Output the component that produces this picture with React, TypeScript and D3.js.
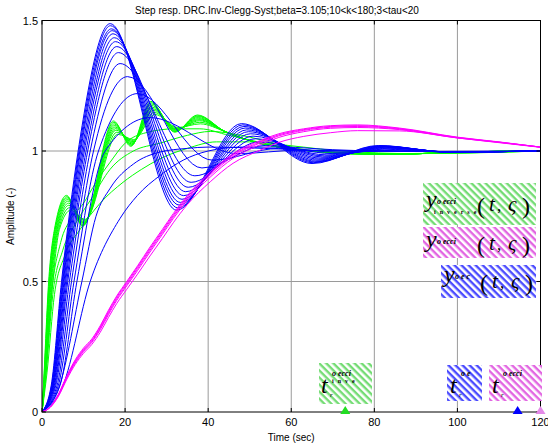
import React from "react";
import * as d3 from "d3";

const W = 548;
const H = 446;
const plot = { left: 42, right: 540.5, top: 20.5, bottom: 412 };

const xTicks = [0, 20, 40, 60, 80, 100, 120];
const yTicks = [0, 0.5, 1, 1.5];
const yTickLabels = ["0", "0.5", "1", "1.5"];
const titleText = "Step resp. DRC.Inv-Clegg-Syst;beta=3.105;10<k<180;3<tau<20";

// blue family (oscillating members): times and values of the features
const blueT10 = [2.2, 2.3, 2.4, 2.5, 2.6, 2.7, 2.8, 2.95, 3.1, 3.3, 3.6, 3.9, 4.3];
const blueT05 = [4.7, 4.85, 5.0, 5.15, 5.3, 5.5, 5.7, 5.95, 6.2, 6.6, 7.1, 7.7, 8.4];
const blueT1 = [8.7, 8.9, 9.1, 9.3, 9.6, 9.9, 10.2, 10.6, 11.0, 11.6, 12.4, 13.6, 15.2];
const bluePk1T = [16.4, 16.5, 16.7, 16.9, 17.1, 17.4, 17.7, 18.0, 18.4, 18.8, 20.6, 23.0, 26.0];
const bluePk1Y = [1.488, 1.48, 1.468, 1.461, 1.449, 1.434, 1.419, 1.4, 1.377, 1.335, 1.285, 1.22, 1.128];
const blueDip1T = [32.4, 32.7, 33.0, 33.3, 33.7, 34.1, 34.6, 35.2, 35.9, 36.8, 38.5, 41.0, 47.0];
const blueDip1Y = [0.773, 0.782, 0.793, 0.803, 0.815, 0.829, 0.844, 0.861, 0.88, 0.905, 0.935, 0.965, 0.99];
const bluePk2T = [48.0, 48.3, 48.6, 48.9, 49.3, 49.7, 50.2, 50.8, 51.5, 52.3, 54.0, 57.0, 62.0];
const bluePk2Y = [1.105, 1.1, 1.094, 1.088, 1.081, 1.074, 1.066, 1.057, 1.047, 1.035, 1.022, 1.01, 1.003];
const blueDip2T = [65.0, 65.3, 65.6, 65.9, 66.2, 66.6, 67.0, 67.5, 68.0, 68.6, 70.0, 72.0, 76.0];
const blueDip2Y = [0.952, 0.955, 0.958, 0.961, 0.965, 0.969, 0.973, 0.977, 0.981, 0.985, 0.99, 0.995, 0.999];
const bluePk3T = [81.0, 81.3, 81.6, 82.0, 82.4, 82.8, 83.2, 83.6, 84.0, 84.5, 85.0, 86.0, 88.0];
const bluePk3Y = [1.021, 1.02, 1.019, 1.018, 1.017, 1.016, 1.015, 1.013, 1.011, 1.009, 1.006, 1.003, 1.001];
const blueTailT = [98, 120];
const blueTailY = [0.996, 1.0];

// blue family, the two slow members
const blueSlowA = [[0, 0], [4.2, 0.1], [9.6, 0.5], [13, 0.75], [16.4, 0.857], [22, 0.95], [28.4, 0.996], [35, 1.01], [40, 1.015], [50, 1.012], [65, 1.003], [90, 0.998], [120, 1.0]];
const blueSlowB = [[0, 0], [5, 0.1], [11.6, 0.5], [18.8, 0.742], [23, 0.83], [28.4, 0.906], [34, 0.965], [40, 1.0], [48, 1.015], [58, 1.015], [70, 1.005], [90, 0.998], [120, 1.0]];

// green family (wavy members)
const greenT10 = [0.35, 0.38, 0.41, 0.44, 0.47, 0.5, 0.55, 0.6, 0.65];
const greenT05 = [1.6, 1.7, 1.8, 1.9, 2.0, 2.1, 2.25, 2.4, 2.6];
const greenT07 = [3.0, 3.1, 3.2, 3.35, 3.5, 3.65, 3.8, 4.0, 4.2];
const greenB1T = [5.9, 6.0, 6.1, 6.2, 6.3, 6.4, 6.5, 6.7, 6.9];
const greenB1Y = [0.83, 0.825, 0.82, 0.814, 0.808, 0.8, 0.792, 0.783, 0.773];
const greenD1T = [9.8, 9.85, 9.9, 10.0, 10.05, 10.1, 10.2, 10.3, 10.4];
const greenD1Y = [0.712, 0.714, 0.717, 0.72, 0.723, 0.726, 0.73, 0.734, 0.738];
const greenP2T = [17.2, 17.3, 17.4, 17.5, 17.6, 17.7, 17.8, 18.0, 18.2];
const greenP2Y = [1.115, 1.11, 1.104, 1.098, 1.092, 1.086, 1.08, 1.072, 1.064];
const greenD2T = [21.4, 21.5, 21.6, 21.6, 21.7, 21.8, 21.9, 22.0, 22.1];
const greenD2Y = [1.018, 1.021, 1.024, 1.027, 1.03, 1.033, 1.036, 1.04, 1.044];
const greenP3T = [26.2, 26.3, 26.4, 26.5, 26.6, 26.7, 26.8, 27.0, 27.2];
const greenP3Y = [1.19, 1.185, 1.18, 1.174, 1.168, 1.162, 1.156, 1.148, 1.14];
const greenD3T = [32.0, 32.0, 32.1, 32.2, 32.3, 32.4, 32.5, 32.6, 32.7];
const greenD3Y = [1.072, 1.074, 1.076, 1.078, 1.08, 1.082, 1.084, 1.087, 1.09];
const greenP4T = [37.4, 37.5, 37.6, 37.6, 37.7, 37.8, 37.9, 38.0, 38.1];
const greenP4Y = [1.138, 1.135, 1.132, 1.128, 1.124, 1.12, 1.116, 1.11, 1.104];
const greenTailT = [44, 50, 57, 65, 74, 86, 100, 120];
const greenTailY = [1.075, 1.04, 1.015, 1.0, 0.99, 0.988, 0.996, 1.0];

// green family, smooth members
const greenSmoothA = [[0, 0], [0.9, 0.15], [2.3, 0.45], [4.5, 0.65], [7, 0.74], [10, 0.8], [13, 0.88], [16.4, 0.957], [20, 1.03], [25, 1.07], [32, 1.085], [38, 1.085], [45, 1.06], [52, 1.035], [60, 1.01], [70, 0.995], [85, 0.99], [120, 1.0]];
const greenSmoothB = [[0, 0], [1, 0.15], [2.6, 0.45], [5, 0.62], [8, 0.72], [12, 0.82], [16.4, 0.93], [22, 1.0], [28.4, 1.03], [35, 1.06], [40.5, 1.075], [48, 1.06], [56, 1.03], [66, 1.0], [85, 0.99], [120, 1.0]];
const greenSmoothC = [[0, 0], [1.2, 0.15], [3, 0.45], [5.5, 0.6], [9.2, 0.7], [14, 0.8], [19.5, 0.88], [24, 0.93], [28.4, 0.97], [35, 1.01], [42, 1.035], [50, 1.035], [60, 1.02], [72, 1.0], [90, 0.99], [120, 1.0]];

// magenta family
const magentaT = [0, 2, 4, 6, 8, 10, 12, 14, 16, 18, 20.4, 23, 26, 29, 31.6, 35, 40.5, 46, 52.5, 57, 63, 69.4, 76, 86, 100, 110, 120];
const magentaY = [
  [0, 0.02, 0.07, 0.14, 0.2, 0.245, 0.28, 0.33, 0.39, 0.445, 0.5, 0.56, 0.632, 0.7, 0.76, 0.83, 0.92, 0.99, 1.04, 1.066, 1.085, 1.097, 1.1, 1.088, 1.053, 1.035, 1.015],
  [0, 0.02, 0.068, 0.137, 0.196, 0.24, 0.275, 0.325, 0.385, 0.44, 0.495, 0.555, 0.626, 0.694, 0.754, 0.824, 0.914, 0.985, 1.035, 1.062, 1.082, 1.094, 1.097, 1.086, 1.052, 1.034, 1.015],
  [0, 0.019, 0.066, 0.134, 0.192, 0.236, 0.271, 0.32, 0.379, 0.434, 0.489, 0.549, 0.62, 0.688, 0.748, 0.818, 0.908, 0.98, 1.031, 1.058, 1.079, 1.091, 1.094, 1.084, 1.051, 1.034, 1.015],
  [0, 0.019, 0.064, 0.131, 0.188, 0.232, 0.267, 0.315, 0.373, 0.428, 0.483, 0.542, 0.613, 0.681, 0.741, 0.811, 0.9, 0.972, 1.024, 1.052, 1.074, 1.087, 1.09, 1.082, 1.05, 1.033, 1.015],
  [0, 0.018, 0.061, 0.126, 0.182, 0.225, 0.259, 0.305, 0.362, 0.416, 0.47, 0.528, 0.598, 0.665, 0.725, 0.795, 0.882, 0.953, 1.003, 1.033, 1.056, 1.07, 1.078, 1.077, 1.05, 1.032, 1.014],
];

// rise-time markers on the time axis
const markerT = [73, 114.5, 120];
const markerColor = ["#22dd22", "#0000ff", "#e48ae8"];

const sans = "'Liberation Sans', Arial, Helvetica, sans-serif";
const serif = "'Liberation Serif', 'Times New Roman', serif";

const x = d3.scaleLinear().domain([0, 120]).range([plot.left, plot.right]);
const y = d3.scaleLinear().domain([0, 1.5]).range([plot.bottom, plot.top]);
const line = d3
  .line<number[]>()
  .x((d) => x(d[0]))
  .y((d) => y(d[1]))
  .curve(d3.curveMonotoneX);

const pairs = (ts: number[], ys: number[]) => ts.map((t, j) => [t, ys[j]]);

const blueCurves = [
  ...bluePk1T.map((_, i) => [
    [0, 0],
    [blueT10[i], 0.1],
    [blueT05[i], 0.5],
    [blueT1[i], 1],
    [bluePk1T[i], bluePk1Y[i]],
    [blueDip1T[i], blueDip1Y[i]],
    [bluePk2T[i], bluePk2Y[i]],
    [blueDip2T[i], blueDip2Y[i]],
    [bluePk3T[i], bluePk3Y[i]],
    ...pairs(blueTailT, blueTailY),
  ]),
  blueSlowA,
  blueSlowB,
];

const greenCurves = [
  greenSmoothA,
  greenSmoothB,
  greenSmoothC,
  ...greenB1T.map((_, i) => [
    [0, 0],
    [greenT10[i], 0.1],
    [greenT05[i], 0.5],
    [greenT07[i], 0.7],
    [greenB1T[i], greenB1Y[i]],
    [greenD1T[i], greenD1Y[i]],
    [greenP2T[i], greenP2Y[i]],
    [greenD2T[i], greenD2Y[i]],
    [greenP3T[i], greenP3Y[i]],
    [greenD3T[i], greenD3Y[i]],
    [greenP4T[i], greenP4Y[i]],
    ...pairs(greenTailT, greenTailY),
  ]),
];

const magentaCurves = magentaY.map((ys) => pairs(magentaT, ys));

const hatches = [
  { id: "hG", color: "#74dc74" },
  { id: "hM", color: "#e266e2" },
  { id: "hB", color: "#4c4cff" },
];

const Yterm = ({ x0, base, sub, sub2 }: any) => (
  <g>
    <text x={x0} y={base} fontFamily={serif} fontStyle="italic" fontSize={24}>y</text>
    <text x={x0 + 11} y={base - 3} fontFamily={serif} fontStyle="italic" fontWeight="bold" fontSize={8}>{sub}</text>
    {sub2 && (
      <text x={x0 + 8} y={base + 7} fontFamily={serif} fontWeight="bold" fontSize={6} letterSpacing={4}>{sub2}</text>
    )}
  </g>
);

const Args = ({ x0, base }: any) => (
  <g fontFamily={serif}>
    <text x={x0} y={base} fontSize={24}>(</text>
    <text x={x0 + 12} y={base - 3} fontSize={21} fontStyle="italic">t</text>
    <text x={x0 + 20} y={base - 3} fontSize={17}>,</text>
    <text x={x0 + 31} y={base - 3} fontSize={21} fontStyle="italic">ς</text>
    <text x={x0 + 45} y={base} fontSize={24}>)</text>
  </g>
);

const Tterm = ({ x0, base, sup, sup2 }: any) => (
  <g>
    <text x={x0} y={base} fontFamily={serif} fontStyle="italic" fontSize={24}>t</text>
    <text x={x0 + 11} y={base - 17} fontFamily={serif} fontStyle="italic" fontWeight="bold" fontSize={8}>{sup}</text>
    {sup2 && (
      <text x={x0 + 11} y={base - 10} fontFamily={serif} fontWeight="bold" fontSize={6} letterSpacing={4}>{sup2}</text>
    )}
    <text x={x0 + 9} y={base + 4} fontFamily={serif} fontStyle="italic" fontSize={7}>r</text>
  </g>
);

export default function App() {
  const triPath = (cx: number, by: number) => `M${cx - 5},${by + 2} L${cx + 5},${by + 2} L${cx},${by - 6} Z`;
  return (
    <svg width={W} height={H} style={{ position: "absolute", left: 0, top: 0, display: "block", background: "#fff" }}>
      <defs>
        <clipPath id="plotClip">
          <rect x={plot.left} y={plot.top} width={plot.right - plot.left} height={plot.bottom - plot.top} />
        </clipPath>
        {hatches.map((h) => (
          <pattern key={h.id} id={h.id} patternUnits="userSpaceOnUse" width={5} height={5} patternTransform="rotate(45)">
            <rect width={5} height={5} fill="#fff" />
            <rect width={5} height={2.4} fill={h.color} />
          </pattern>
        ))}
      </defs>
      <rect x={0} y={0} width={W} height={H} fill="#fff" />

      {/* grid */}
      <g stroke="#9a9a9a" strokeWidth={1}>
        {xTicks.slice(1, -1).map((t) => (
          <line key={"gx" + t} x1={x(t)} x2={x(t)} y1={plot.top} y2={plot.bottom} />
        ))}
        {yTicks.slice(1, -1).map((v) => (
          <line key={"gy" + v} x1={plot.left} x2={plot.right} y1={y(v)} y2={y(v)} />
        ))}
      </g>

      {/* curves */}
      <g clipPath="url(#plotClip)" fill="none" strokeWidth={1}>
        {greenCurves.map((c, i) => (
          <path key={"g" + i} d={line(c) || ""} stroke="#00ff00" />
        ))}
        {blueCurves.map((c, i) => (
          <path key={"b" + i} d={line(c) || ""} stroke="#0000ff" />
        ))}
        {magentaCurves.map((c, i) => (
          <path key={"m" + i} d={line(c) || ""} stroke="#ff00ff" />
        ))}
      </g>

      {/* frame and ticks */}
      <rect x={plot.left} y={plot.top} width={plot.right - plot.left} height={plot.bottom - plot.top} fill="none" stroke="#000" strokeWidth={1} />
      <g stroke="#000" strokeWidth={1}>
        {xTicks.map((t) => (
          <g key={"tx" + t}>
            <line x1={x(t)} x2={x(t)} y1={plot.bottom} y2={plot.bottom - 4} />
            <line x1={x(t)} x2={x(t)} y1={plot.top} y2={plot.top + 4} />
          </g>
        ))}
        {yTicks.map((v) => (
          <g key={"ty" + v}>
            <line x1={plot.left} x2={plot.left + 4} y1={y(v)} y2={y(v)} />
            <line x1={plot.right} x2={plot.right - 4} y1={y(v)} y2={y(v)} />
          </g>
        ))}
      </g>
      <g fontFamily={sans} fontSize={11} fill="#000">
        {xTicks.map((t) => (
          <text key={"lx" + t} x={x(t)} y={plot.bottom + 14} textAnchor="middle">{t}</text>
        ))}
        {yTicks.map((v, i) => (
          <text key={"ly" + v} x={plot.left - 4} y={y(v) + 4} textAnchor="end">{yTickLabels[i]}</text>
        ))}
      </g>

      {/* titles */}
      <text x={277} y={14} textAnchor="middle" fontFamily={sans} fontSize={10}>{titleText}</text>
      <text x={(plot.left + plot.right) / 2} y={441} textAnchor="middle" fontFamily={sans} fontSize={10}>Time (sec)</text>
      <text transform={`translate(14,${(plot.top + plot.bottom) / 2}) rotate(-90)`} textAnchor="middle" fontFamily={sans} fontSize={10}>Amplitude (-)</text>

      {/* response labels */}
      <rect x={423} y={183} width={113} height={42} fill="url(#hG)" />
      <Yterm x0={426} base={207} sub="o  ecci" sub2="inverse" />
      <Args x0={477} base={214} />
      <rect x={423} y={227} width={113} height={31} fill="url(#hM)" />
      <Yterm x0={426} base={247} sub="o  ecci" />
      <Args x0={477} base={253} />
      <rect x={441} y={265} width={95} height={33} fill="url(#hB)" />
      <Yterm x0={444} base={282} sub="o  e c" />
      <Args x0={480} base={291} />

      {/* rise-time labels */}
      <rect x={319} y={363} width={53} height={41} fill="url(#hG)" />
      <Tterm x0={321} base={393} sup="o  ecci" sup2="inve" />
      <rect x={447} y={365} width={35} height={36} fill="url(#hB)" />
      <Tterm x0={450} base={393} sup="o  e" />
      <rect x={489} y={365} width={53} height={36} fill="url(#hM)" />
      <Tterm x0={492} base={393} sup="o  ecci" />

      {/* rise-time markers */}
      {markerT.map((t, i) => (
        <path key={"mk" + i} d={triPath(x(t), plot.bottom)} fill={markerColor[i]} />
      ))}
    </svg>
  );
}
